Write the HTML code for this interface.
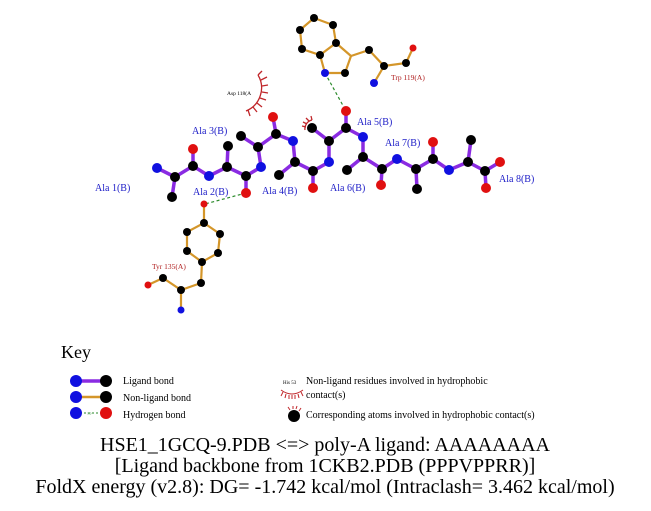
<!DOCTYPE html>
<html><head><meta charset="utf-8"><style>
html,body{margin:0;padding:0;background:#fff;}
svg{display:block;}
text{font-family:"Liberation Serif",serif;}
</style></head><body>
<svg width="651" height="511" viewBox="0 0 651 511" xmlns="http://www.w3.org/2000/svg">
<!-- Trp bonds -->
<g stroke="#d4962a" stroke-width="2.2" fill="none">
<polyline points="300,30 314,18 333,25 336,43 320,55 302,49 300,30"/>
<polyline points="320,55 325,73 345,73 351,56 336,43"/>
<polyline points="351,56 369,50 384,66 406,63 413,48"/>
<line x1="384" y1="66" x2="374" y2="83"/>
<polyline points="204,204 204,223 187,232 187,251 202,262 218,253 220,234 204,223"/>
<polyline points="202,262 201,283 181,290 163,278 148,285"/>
<line x1="181" y1="290" x2="181" y2="310"/>
</g>
<g stroke="#2a8a2a" stroke-width="1.2" stroke-dasharray="3,2.5" fill="none">
<line x1="325" y1="73" x2="346" y2="111"/>
<line x1="246" y1="193" x2="205" y2="204"/>
</g>
<g stroke="#8a2be2" stroke-width="3.5" fill="none" stroke-linejoin="round">
<polyline points="157,168 175,177 193,166 209,176 227,167 246,176 261,167 258,147 276,134 293,141 295,162 313,171 329,162 329,141 346,128 363,137 363,157 382,169 397,159 416,169 433,159 449,170 468,162 485,171 500,162"/>
<line x1="175" y1="177" x2="172" y2="197"/>
<line x1="193" y1="166" x2="193" y2="149"/>
<line x1="227" y1="167" x2="228" y2="146"/>
<line x1="246" y1="176" x2="246" y2="193"/>
<line x1="258" y1="147" x2="241" y2="136"/>
<line x1="276" y1="134" x2="273" y2="117"/>
<line x1="295" y1="162" x2="279" y2="175"/>
<line x1="313" y1="171" x2="313" y2="188"/>
<line x1="329" y1="141" x2="312" y2="128"/>
<line x1="346" y1="128" x2="346" y2="111"/>
<line x1="363" y1="157" x2="347" y2="170"/>
<line x1="382" y1="169" x2="381" y2="185"/>
<line x1="416" y1="169" x2="417" y2="189"/>
<line x1="433" y1="159" x2="433" y2="142"/>
<line x1="468" y1="162" x2="471" y2="140"/>
<line x1="485" y1="171" x2="486" y2="188"/>
</g>
<g stroke="#c0262a" stroke-width="1.3" fill="none">
<path d="M258,75 A25,25 0 0 1 246,111"/>
<line x1="258" y1="75" x2="262" y2="71"/><line x1="261" y1="80" x2="267" y2="77"/>
<line x1="262" y1="86" x2="268" y2="85"/><line x1="262" y1="92" x2="268" y2="93"/>
<line x1="260" y1="98" x2="266" y2="100"/><line x1="257" y1="103" x2="262" y2="107"/>
<line x1="253" y1="107" x2="257" y2="112"/><line x1="248" y1="110" x2="250" y2="116"/>
<path d="M305,130 A9,9 0 0 1 312,120"/>
<line x1="306" y1="127" x2="302" y2="126"/><line x1="307" y1="124" x2="303" y2="122"/>
<line x1="309" y1="121" x2="306" y2="118"/><line x1="312" y1="120" x2="311" y2="116"/>
</g>
<g fill="#000">
<circle cx="314" cy="18" r="4"/><circle cx="333" cy="25" r="4"/><circle cx="300" cy="30" r="4"/><circle cx="336" cy="43" r="4"/><circle cx="302" cy="49" r="4"/><circle cx="320" cy="55" r="4"/><circle cx="345" cy="73" r="4"/><circle cx="369" cy="50" r="4"/><circle cx="384" cy="66" r="4"/><circle cx="406" cy="63" r="4"/>
<circle cx="204" cy="223" r="4"/><circle cx="187" cy="232" r="4"/><circle cx="220" cy="234" r="4"/><circle cx="187" cy="251" r="4"/><circle cx="218" cy="253" r="4"/><circle cx="202" cy="262" r="4"/><circle cx="201" cy="283" r="4"/><circle cx="181" cy="290" r="4"/><circle cx="163" cy="278" r="4"/>
<circle cx="175" cy="177" r="5"/><circle cx="172" cy="197" r="5"/><circle cx="193" cy="166" r="5"/><circle cx="227" cy="167" r="5"/><circle cx="228" cy="146" r="5"/><circle cx="246" cy="176" r="5"/><circle cx="258" cy="147" r="5"/><circle cx="241" cy="136" r="5"/><circle cx="276" cy="134" r="5"/><circle cx="295" cy="162" r="5"/><circle cx="279" cy="175" r="5"/><circle cx="313" cy="171" r="5"/><circle cx="329" cy="141" r="5"/><circle cx="312" cy="128" r="5"/><circle cx="346" cy="128" r="5"/><circle cx="363" cy="157" r="5"/><circle cx="347" cy="170" r="5"/><circle cx="382" cy="169" r="5"/><circle cx="416" cy="169" r="5"/><circle cx="417" cy="189" r="5"/><circle cx="433" cy="159" r="5"/><circle cx="468" cy="162" r="5"/><circle cx="471" cy="140" r="5"/><circle cx="485" cy="171" r="5"/>
</g>
<g fill="#1010e0">
<circle cx="325" cy="73" r="4"/><circle cx="374" cy="83" r="4"/><circle cx="181" cy="310" r="3.5"/>
<circle cx="157" cy="168" r="5"/><circle cx="209" cy="176" r="5"/><circle cx="261" cy="167" r="5"/><circle cx="293" cy="141" r="5"/><circle cx="329" cy="162" r="5"/><circle cx="363" cy="137" r="5"/><circle cx="397" cy="159" r="5"/><circle cx="449" cy="170" r="5"/>
</g>
<g fill="#e01010">
<circle cx="413" cy="48" r="3.5"/><circle cx="204" cy="204" r="3.5"/><circle cx="148" cy="285" r="3.5"/>
<circle cx="193" cy="149" r="5"/><circle cx="246" cy="193" r="5"/><circle cx="273" cy="117" r="5"/><circle cx="313" cy="188" r="5"/><circle cx="346" cy="111" r="5"/><circle cx="381" cy="185" r="5"/><circle cx="433" cy="142" r="5"/><circle cx="500" cy="162" r="5"/><circle cx="486" cy="188" r="5"/>
</g>
<g fill="#2020c8" font-size="10">
<text x="95" y="191">Ala 1(B)</text>
<text x="193" y="195">Ala 2(B)</text>
<text x="192" y="134">Ala 3(B)</text>
<text x="262" y="194">Ala 4(B)</text>
<text x="357" y="125">Ala 5(B)</text>
<text x="330" y="191">Ala 6(B)</text>
<text x="385" y="146">Ala 7(B)</text>
<text x="499" y="182">Ala 8(B)</text>
</g>
<text x="391" y="80" font-size="7.5" fill="#b02020">Trp 119(A)</text>
<text x="152" y="269" font-size="7.5" fill="#b02020">Tyr 135(A)</text>
<text x="227" y="95" font-size="5.5" fill="#000">Asp 118(A</text>
<text x="61" y="358" font-size="18" fill="#000">Key</text>
<line x1="77" y1="381" x2="107" y2="381" stroke="#8a2be2" stroke-width="3.5"/>
<circle cx="76" cy="381" r="6" fill="#1010e0"/><circle cx="106" cy="381" r="6" fill="#000"/>
<line x1="77" y1="397" x2="107" y2="397" stroke="#d4962a" stroke-width="2.5"/>
<circle cx="76" cy="397" r="6" fill="#1010e0"/><circle cx="106" cy="397" r="6" fill="#000"/>
<line x1="80" y1="413" x2="102" y2="413" stroke="#2a8a2a" stroke-width="1" stroke-dasharray="2,2"/>
<text x="87" y="414.5" font-size="3.5" fill="#2a8a2a">3.0</text>
<circle cx="76" cy="413" r="6" fill="#1010e0"/><circle cx="106" cy="413" r="6" fill="#e01010"/>
<g font-size="10" fill="#000">
<text x="123" y="384">Ligand bond</text>
<text x="123" y="401">Non-ligand bond</text>
<text x="123" y="418">Hydrogen bond</text>
<text x="306" y="384">Non-ligand residues involved in hydrophobic</text>
<text x="306" y="398">contact(s)</text>
<text x="306" y="418">Corresponding atoms involved in hydrophobic contact(s)</text>
</g>
<text x="283" y="384" font-size="5" fill="#000">His 53</text>
<g stroke="#c0262a" stroke-width="1" fill="none">
<path d="M281,390 Q292,398 303,390"/>
<line x1="283" y1="392" x2="281" y2="396"/><line x1="286" y1="394" x2="285" y2="398"/><line x1="289" y1="395" x2="289" y2="399"/><line x1="292" y1="395" x2="292" y2="399"/><line x1="295" y1="395" x2="295" y2="399"/><line x1="298" y1="394" x2="299" y2="398"/><line x1="301" y1="392" x2="303" y2="396"/>
<line x1="290" y1="410" x2="288" y2="407"/><line x1="293" y1="409" x2="293" y2="406"/><line x1="296" y1="409" x2="297" y2="406"/><line x1="299" y1="411" x2="301" y2="408"/>
</g>
<circle cx="294" cy="416" r="6" fill="#000"/>
<g font-size="20" fill="#000" text-anchor="middle">
<text x="325" y="451">HSE1_1GCQ-9.PDB &lt;=&gt; poly-A ligand: AAAAAAAA</text>
<text x="325" y="472">[Ligand backbone from 1CKB2.PDB (PPPVPPRR)]</text>
<text x="325" y="493">FoldX energy (v2.8): DG= -1.742 kcal/mol (Intraclash= 3.462 kcal/mol)</text>
</g>
</svg>
</body></html>
